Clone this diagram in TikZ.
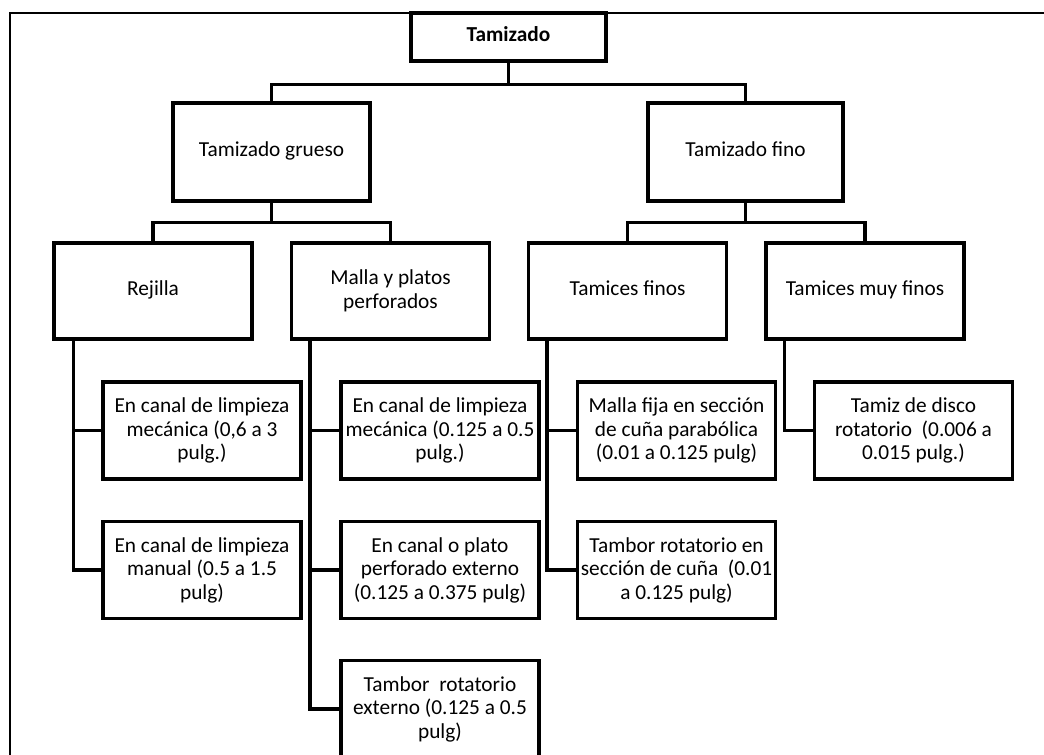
\documentclass[tikz,border=0pt]{standalone}
\usepackage{fontspec}
\setmainfont{Carlito}
\usetikzlibrary{calc}
\begin{document}
\begin{tikzpicture}[x=0.75pt,y=-0.75pt,
  box/.style={draw,line width=2.4pt,inner sep=0pt,align=center,
    font=\fontsize{16}{17.6}\selectfont,
    minimum width=148.5pt,minimum height=72.75pt},
  oneline/.style={text height=11pt,text depth=3.5pt},
  link/.style={line width=2.4pt,line join=miter},
  frameline/.style={line width=1.8pt}]
\useasboundingbox (0,0) rectangle (1044,755);
\clip (0,0) rectangle (1044,755);
\draw[frameline] (10,790) -- (10,13) -- (1070,13);
% level 1
\node[box,oneline,minimum width=146.25pt,minimum height=36pt,
  font=\fontsize{16}{17.6}\selectfont\bfseries] (top) at (508.5,37) {Tamizado};
% level 2
\node[box,oneline,minimum width=147.75pt,minimum height=73.5pt] (grueso) at (271.5,152) {Tamizado grueso};
\node[box,oneline,minimum width=146.25pt,minimum height=73.5pt] (fino) at (745.5,152) {Tamizado fino};
% level 3
\node[box,oneline,minimum height=72pt] (rej) at (153,291) {Rejilla};
\node[box,minimum height=72pt] (malla) at (390.5,291) {Malla y platos\\perforados};
\node[box,oneline,minimum height=72pt] (tf) at (627.5,291) {Tamices finos};
\node[box,oneline,minimum height=72pt] (tmf) at (865,291) {Tamices muy finos};
% level 4
\node[box] (r1) at (202,430.5) {En canal de limpieza\\mecánica (0,6 a 3\\pulg.)};
\node[box] (r2) at (202,570) {En canal de limpieza\\manual (0.5 a 1.5\\pulg)};
\node[box] (m1) at (440,430.5) {En canal de limpieza\\mecánica (0.125 a 0.5\\pulg.)};
\node[box] (m2) at (440,570) {En canal o plato\\perforado externo\\(0.125 a 0.375 pulg)};
\node[box] (m3) at (440,709) {Tambor~ rotatorio\\externo (0.125 a 0.5\\pulg)};
\node[box] (f1) at (676.5,430.5) {Malla fija en sección\\de cuña parabólica\\(0.01 a 0.125 pulg)};
\node[box] (f2) at (676.5,570) {Tambor rotatorio en\\sección de cuña~ (0.01\\a 0.125 pulg)};
\node[box] (mf1) at (913.5,430.5) {Tamiz de disco\\rotatorio~ (0.006 a\\0.015 pulg.)};
% connectors
\coordinate (b0) at ($(top.south)+(0,22)$);
\draw[link] (top.south) -- (b0);
\draw[link] (grueso.north) |- (b0) -| (fino.north);
\coordinate (b1) at ($(grueso.south)+(0,20)$);
\draw[link] (grueso.south) -- (b1);
\draw[link] (rej.north) |- (b1) -| (malla.north);
\coordinate (b2) at ($(fino.south)+(0,20)$);
\draw[link] (fino.south) -- (b2);
\draw[link] (tf.north) |- (b2) -| (tmf.north);
\coordinate (s1) at ($(rej.south west)+(21,0)$);
\draw[link] (s1) |- (r1.west);
\draw[link] (s1) |- (r2.west);
\coordinate (s2) at ($(malla.south west)+(20,0)$);
\draw[link] (s2) |- (m1.west);
\draw[link] (s2) |- (m2.west);
\draw[link] (s2) |- (m3.west);
\coordinate (s3) at ($(tf.south west)+(20,0)$);
\draw[link] (s3) |- (f1.west);
\draw[link] (s3) |- (f2.west);
\coordinate (s4) at ($(tmf.south west)+(20,0)$);
\draw[link] (s4) |- (mf1.west);
\end{tikzpicture}
\end{document}
